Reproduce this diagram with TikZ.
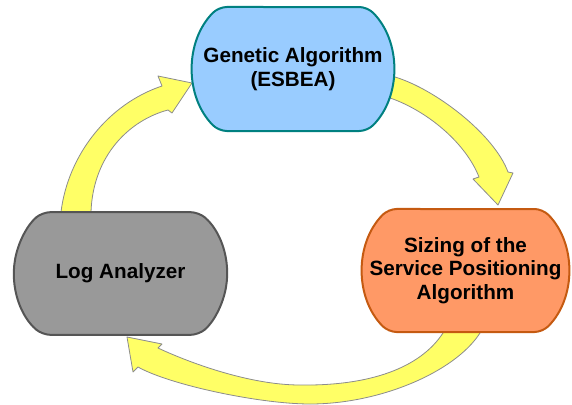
\documentclass[tikz,border=0pt]{standalone}
\usepackage{fontspec}
\setmainfont{Liberation Sans}
\usetikzlibrary{shapes.misc}

\definecolor{gafill}{HTML}{99CCFF}
\definecolor{gaedge}{HTML}{008080}
\definecolor{spfill}{HTML}{FF9966}
\definecolor{spedge}{HTML}{C55A11}
\definecolor{lafill}{HTML}{999999}
\definecolor{laedge}{HTML}{555555}
\definecolor{flowfill}{HTML}{FFFF66}
\definecolor{flowedge}{HTML}{8C8C8C}

\tikzset{
  stage/.style={rounded rectangle, rounded rectangle arc length=90,
    rounded corners=6pt,
    line width=1.5pt, inner sep=0pt, align=center,
    font=\bfseries\fontsize{15.5}{17.5}\selectfont},
  flow/.style={fill=flowfill, draw=flowedge, line width=0.6pt, line join=round},
}

\begin{document}
\begin{tikzpicture}[x=0.75pt,y=-0.75pt]
\useasboundingbox (0,0) rectangle (572,404);

% block arrows of the cycle (drawn first, tails tuck under the stages)
% Genetic Algorithm -> Sizing
\path[flow] (380,72) -- (395,77) .. controls (435,89) and (494,134) .. (508,172)
  -- (513,173) -- (498,205) -- (473,179) -- (479,177)
  .. controls (466,144) and (430,113) .. (393,99) -- (380,95) -- cycle;
% Sizing -> Log Analyzer
\path[flow] (489,323) -- (480,333) .. controls (455,372) and (380,404) .. (310,404)
  .. controls (260,404) and (170,385) .. (138,367)
  -- (133,372) -- (127,337) -- (162,344) -- (158,348)
  .. controls (190,363) and (250,385) .. (300,385)
  .. controls (370,386) and (420,368) .. (443,333) -- (456,323) -- cycle;
% Log Analyzer -> Genetic Algorithm
\path[flow] (61,222) -- (61,212) .. controls (68,155) and (108,104) .. (162,86)
  -- (158,76) -- (192,83) -- (172,113) -- (168,110)
  .. controls (130,120) and (93,155) .. (91,212) -- (91,222) -- cycle;

% stages
\node[stage, fill=gafill, draw=gaedge, minimum width=150pt, minimum height=93pt]
  (ga) at (293,69) {Genetic Algorithm\\(ESBEA)};
\node[stage, fill=spfill, draw=spedge, minimum width=153.75pt, minimum height=92.25pt]
  (sp) at (465.5,270.5) {Sizing of the\\Service Positioning\\Algorithm};
\node[stage, fill=lafill, draw=laedge, minimum width=160pt, minimum height=92pt,
  rounded rectangle arc length=100]
  (la) at (120.5,273.5) {Log Analyzer};
\end{tikzpicture}
\end{document}
